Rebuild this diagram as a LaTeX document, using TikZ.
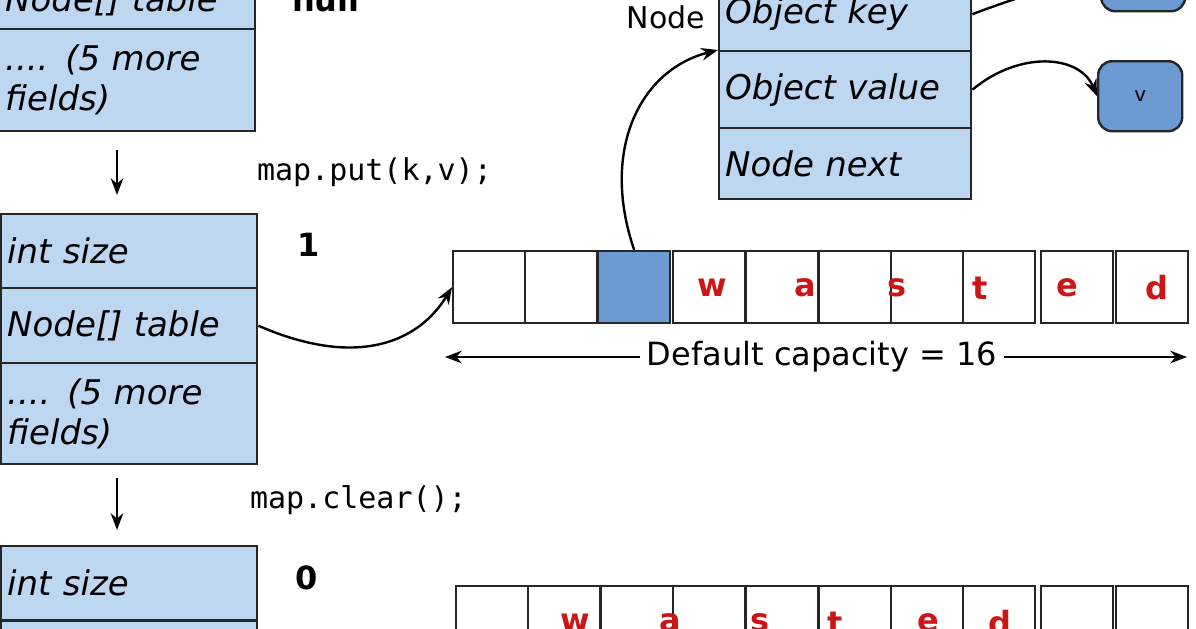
\documentclass[tikz,border=0pt]{standalone}
\usepackage{fontspec}
\setmainfont{DejaVu Sans}
\newfontfamily\codefont{DejaVu Sans Mono}
\usetikzlibrary{positioning, arrows.meta}
\tikzset{>=Stealth}
\definecolor{fieldblue}{HTML}{BDD7F0}
\definecolor{cellblue}{HTML}{6B9BD2}
\definecolor{wastered}{HTML}{CC1515}

\begin{document}
\begin{tikzpicture}[x=0.5pt, y=-0.5pt,
                    field/.style={draw=black!85, line width=1.2pt, fill=fieldblue, anchor=north west,
                      inner sep=3pt, text width=122pt, align=left, font=\fontsize{17}{20}\selectfont\itshape},
                    cell/.style={draw=black!85, line width=1.2pt, fill=white, anchor=north west,
                      minimum width=36pt, minimum height=36pt, inner sep=0pt},
                    letter/.style={text=wastered, font=\fontsize{16}{18}\selectfont\bfseries},
                    val/.style={draw=black!85, line width=1.2pt, fill=cellblue, rounded corners=7pt,
                      minimum width=42pt, minimum height=35pt, anchor=north west},
                    code/.style={font=\codefont\fontsize{15}{18}\selectfont, anchor=west},
                    num/.style={font=\fontsize{16}{18}\selectfont\bfseries, anchor=west},
                    link/.style={->, line width=1.2pt},
                    flow/.style={->, line width=1.2pt}]
  \useasboundingbox (0,0) rectangle (1196,628);
  \clip (0,0) rectangle (1196,628);

  % first struct (cut at top)
  \node[field, minimum height=28pt] (tabA) at (-2,-28) {Node[] table};
  \node[field, minimum height=51pt] (moreA) at (-2,28) {.... (5 more\\fields)};
  \node[num] (nullA) at (285,0) {null};

  \coordinate (flowAtop) at (117,150);
  \coordinate (flowAbot) at (117,195);
  \draw[flow] (flowAtop) -- (flowAbot);
  \node[code] (put) at (250,172) {map.put(k,v);};

  % second struct
  \node[field, minimum height=37pt] (sizeB) at (0,213) {int size};
  \node[field, minimum height=37.5pt] (tabB) at (0,287) {Node[] table};
  \node[field, minimum height=50.5pt] (moreB) at (0,362) {.... (5 more\\fields)};
  \node[num] (oneB) at (290,245) {1};

  % table with one entry
  \foreach \i/\x in {0/452,1/524,2/597,3/672,4/745,5/818,6/890,7/962,8/1040,9/1115}
    \node[cell] (c\i) at (\x,250) {};
  \node[cell, fill=cellblue] at (597,250) {};
  \foreach \x/\l in {712/w,805/a,897/s,980/t,1067/e,1157/d}
    \node[letter] at (\x,288) {\l};
  \draw[link] (tabB.east) .. controls (360,370) and (420,340) .. (c0.west);

  \node[font=\fontsize{16}{18}\selectfont] (cap) at (822,357) {Default capacity = 16};
  \coordinate (capL) at (445,357);
  \coordinate (capR) at (1187,357);
  \draw[link] (cap.west) -- (capL);
  \draw[link] (cap.east) -- (capR);

  % node object
  \node[field, minimum height=37pt, text width=120pt] (key) at (718,-24) {Object key};
  \node[field, minimum height=38.5pt, text width=120pt] (value) at (718,50) {Object value};
  \node[field, minimum height=35.5pt, text width=120pt] (next) at (718,127) {Node next};
  \node[font=\fontsize{15}{18}\selectfont, anchor=east] (nodelbl) at (712,17) {Node};
  \draw[link] (c2.north) .. controls (600,150) and (640,70) .. (value.north west);

  \node[val] (kbox) at (1100,-60) {k};
  \node[val] (vbox) at (1097,60) {v};
  \draw[link] (key.east) .. controls (1010,0) and (1040,-10) .. (kbox.west);
  \draw[link] (value.east) .. controls (1020,50) and (1080,55) .. (vbox.west);

  \coordinate (flowBtop) at (117,478);
  \coordinate (flowBbot) at (117,530);
  \draw[flow] (flowBtop) -- (flowBbot);
  \node[code] (clear) at (243,500) {map.clear();};

  % third struct (cut at bottom)
  \node[field, minimum height=37pt] (sizeC) at (0,545) {int size};
  \node[field, minimum height=37.5pt] (tabC) at (0,620) {Node[] table};
  \node[num] (zeroC) at (288,578) {0};

  % cleared table
  \foreach \i/\x in {0/455,1/527,2/600,3/672,4/745,5/818,6/890,7/962,8/1040,9/1115}
    \node[cell] (d\i) at (\x,585) {};
  \foreach \x/\l in {575/w,670/a,760/s,835/t,928/e,1000/d}
    \node[letter] at (\x,623) {\l};
\end{tikzpicture}
\end{document}
